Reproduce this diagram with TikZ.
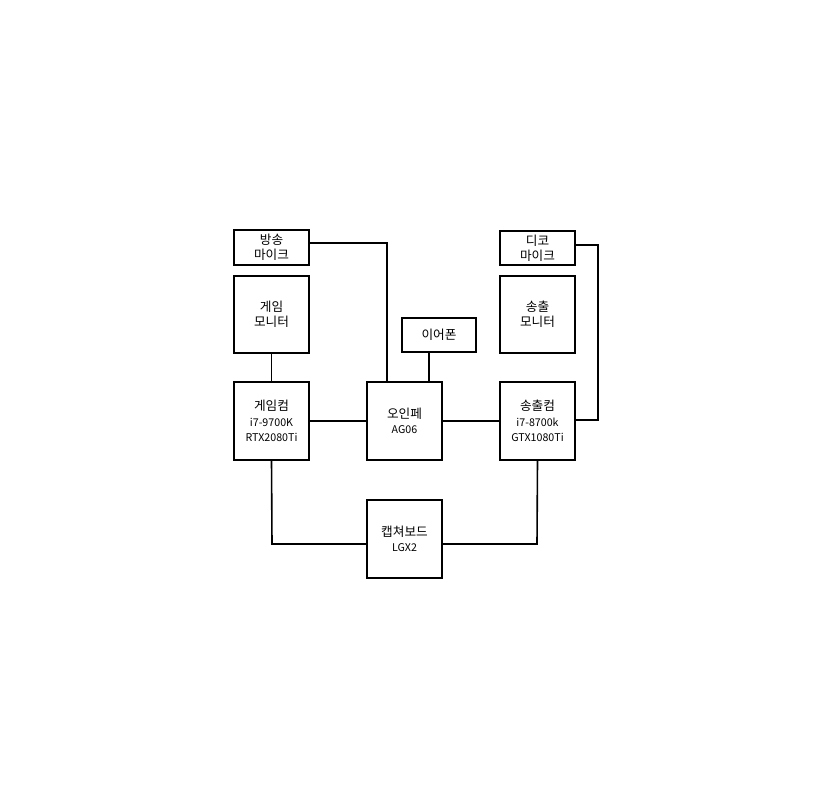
\documentclass[tikz,border=0pt]{standalone}
\usepackage{fontspec}
\setmainfont{Noto Sans CJK KR}
\begin{document}
\begin{tikzpicture}[x=0.75pt,y=-0.75pt,
  bx/.style={draw,line width=0.8pt,align=center,inner sep=0pt,font=\fontsize{9.5}{11.5}\selectfont},
  sm/.style={font=\fontsize{8}{9.5}\selectfont},
  ln/.style={line width=1.2pt}]
\useasboundingbox (0,0) rectangle (835,806);
\newcommand{\bxat}[6]{\node[bx,minimum width=#4*0.75pt,minimum height=#5*0.75pt] (#1) at (#2,#3) {#6};}
\bxat{bm}{271.5}{247.5}{75}{35}{방송\\마이크}
\bxat{gm}{271.5}{314.5}{75}{77}{게임\\모니터}
\bxat{gc}{271.5}{421}{75}{78}{게임컴\\{\fontsize{8}{9.5}\selectfont i7-9700K}\\{\fontsize{8}{9.5}\selectfont RTX2080Ti}}
\bxat{oi}{404.5}{421}{75}{78}{오인페\\{\fontsize{8}{9.5}\selectfont AG06}}
\bxat{ep}{439}{335}{74}{34}{이어폰}
\bxat{dm}{537.5}{248}{75}{34}{디코\\마이크}
\bxat{sm}{537.5}{314.5}{75}{77}{송출\\모니터}
\bxat{sc}{537.5}{421}{75}{78}{송출컴\\{\fontsize{8}{9.5}\selectfont i7-8700k}\\{\fontsize{8}{9.5}\selectfont GTX1080Ti}}
\bxat{cb}{404.5}{539}{75}{78}{캡쳐보드\\{\fontsize{8}{9.5}\selectfont LGX2}}
\draw[ln] (bm.east |- 0,243) -- (387,243) -- (387,0 |- oi.north);
\draw[ln] (gm.south) -- (gc.north);
\draw[ln] (429,0 |- ep.south) -- (429,0 |- oi.north);
\draw[ln] (gc.east) -- (oi.west);
\draw[ln] (oi.east) -- (sc.west);
\draw[ln] (dm.east |- 0,245) -- (598,245) -- (598,420) -- (sc.east |- 0,420);
\draw[ln] (gc.south) -- (272,544) -- (cb.west |- 0,544);
\draw[ln] (cb.east |- 0,544) -- (537,544) -- (sc.south);
\end{tikzpicture}
\end{document}
